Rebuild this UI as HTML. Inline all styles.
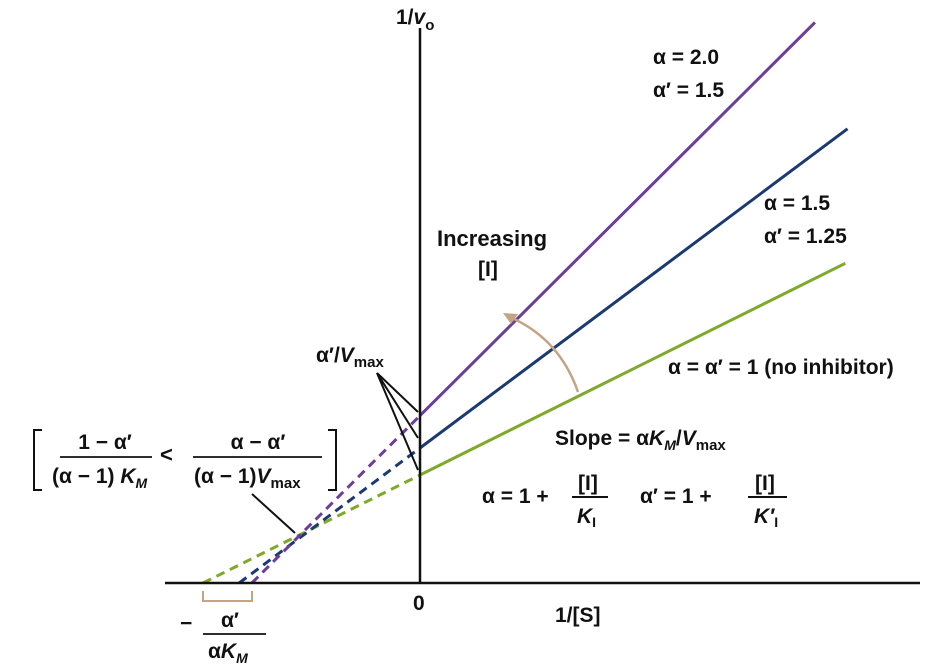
<!DOCTYPE html>
<html><head><meta charset="utf-8"><style>
html,body{margin:0;padding:0;background:#fff;}
svg text{font-family:"Liberation Sans",sans-serif;font-weight:bold;fill:#111;}
</style></head><body>
<svg width="942" height="664" viewBox="0 0 942 664" id="chart">
<g id="series"></g>
<line x1="420" y1="28" x2="420" y2="584" stroke="#111" stroke-width="2.5"/>
<line x1="165" y1="583" x2="920" y2="583" stroke="#111" stroke-width="2.5"/>
<text x="396" y="24" font-size="21">1/<tspan font-style="italic">v</tspan><tspan font-size="15" dy="6">o</tspan></text>
<text x="413" y="610" font-size="21">0</text>
<text x="555" y="622" font-size="21">1/[S]</text>
<text x="653" y="64" font-size="21">α  = 2.0</text>
<text x="653" y="97" font-size="21">α′ = 1.5</text>
<text x="764" y="210" font-size="21">α  = 1.5</text>
<text x="764" y="243" font-size="21">α′ = 1.25</text>
<text x="668" y="374" font-size="21">α = α′ = 1 (no inhibitor)</text>
<text x="437" y="246" font-size="22">Increasing</text>
<text x="478" y="276" font-size="21">[I]</text>
<path d="M578 392 Q560 340 512 318" fill="none" stroke="#c4a484" stroke-width="2.5"/>
<path d="M503 313 L518 314 L511 324 Z" fill="#c4a484"/>
<text x="555" y="445" font-size="21">Slope = α<tspan font-style="italic">K<tspan font-size="14" dy="5">M</tspan></tspan><tspan dy="-5">/</tspan><tspan font-style="italic">V</tspan><tspan font-size="15" dy="5">max</tspan></text>
<text x="482" y="503" font-size="21">α = 1 +</text>
<text x="578" y="490" font-size="21">[I]</text>
<line x1="572" y1="497" x2="608" y2="497" stroke="#111" stroke-width="2"/>
<text x="577" y="523" font-size="21" font-style="italic">K<tspan font-size="14" dy="4" font-style="normal">I</tspan></text>
<text x="640" y="503" font-size="21">α′ = 1 +</text>
<text x="755" y="490" font-size="21">[I]</text>
<line x1="748" y1="497" x2="787" y2="497" stroke="#111" stroke-width="2"/>
<text x="754" y="523" font-size="21" font-style="italic">K′<tspan font-size="14" dy="4" font-style="normal">I</tspan></text>
<text x="316" y="362" font-size="21">α′/<tspan font-style="italic">V</tspan><tspan font-size="15" dy="5">max</tspan></text>
<g stroke="#111" stroke-width="2">
<line x1="377" y1="373" x2="418" y2="412"/><line x1="377" y1="373" x2="418" y2="438"/><line x1="377" y1="373" x2="418" y2="470"/>
<line x1="252" y1="494" x2="295" y2="533"/>
</g>
<path d="M42 430 H34 V490 H42 M328 430 H336 V490 H328" fill="none" stroke="#111" stroke-width="2"/>
<text x="105" y="449" font-size="21" text-anchor="middle">1 − α′</text>
<line x1="60" y1="457" x2="152" y2="457" stroke="#111" stroke-width="1.8"/>
<text x="52" y="483" font-size="21">(α − 1) <tspan font-style="italic">K</tspan><tspan font-size="14" dy="5" font-style="italic">M</tspan></text>
<text x="160" y="462" font-size="22">&lt;</text>
<text x="258" y="449" font-size="21" text-anchor="middle">α − α′</text>
<line x1="193" y1="457" x2="322" y2="457" stroke="#111" stroke-width="1.8"/>
<text x="194" y="483" font-size="21">(α − 1)<tspan font-style="italic">V</tspan><tspan font-size="15" dy="5">max</tspan></text>
<path d="M203 591 V601 H252 V591" fill="none" stroke="#c4a484" stroke-width="2"/>
<text x="180" y="630" font-size="21">−</text>
<text x="230" y="627" font-size="21" text-anchor="middle">α′</text>
<line x1="203" y1="634" x2="266" y2="634" stroke="#111" stroke-width="1.8"/>
<text x="208" y="658" font-size="21">α<tspan font-style="italic">K</tspan><tspan font-size="14" dy="5" font-style="italic">M</tspan></text>
</svg>
<script>
const seriesNames = ["green", "blue", "purple"];
const alphaVals = [1, 1.5, 2.0];
const alphaPrimeVals = [1, 1.25, 1.55];
const xEnds = [1.96, 1.97, 1.82];
const colors = ["#7ea92a", "#1c3a72", "#6c3e9c"];
const KM = 1, VMAX = 1;
function xs(v){ return 420 + v*217; }
function ys(v){ return 583 - v*108; }
const g = document.getElementById('series');
const NS = "http://www.w3.org/2000/svg";
for (let i=0;i<seriesNames.length;i++){
  const slope = alphaVals[i]*KM/VMAX, b = alphaPrimeVals[i]/VMAX;
  const x0 = -b/slope;
  const d = document.createElementNS(NS,'line');
  d.setAttribute('x1', xs(x0)); d.setAttribute('y1', ys(0));
  d.setAttribute('x2', xs(0)); d.setAttribute('y2', ys(b));
  d.setAttribute('stroke', colors[i]); d.setAttribute('stroke-width', 3);
  d.setAttribute('stroke-dasharray', '9 6');
  
  
  g.appendChild(d);
  const s = document.createElementNS(NS,'line');
  s.setAttribute('x1', xs(0)); s.setAttribute('y1', ys(b));
  s.setAttribute('x2', xs(xEnds[i])); s.setAttribute('y2', ys(b + slope*xEnds[i]));
  s.setAttribute('stroke', colors[i]); s.setAttribute('stroke-width', 3);
  
  
  g.appendChild(s);
}
</script>
</body></html>
